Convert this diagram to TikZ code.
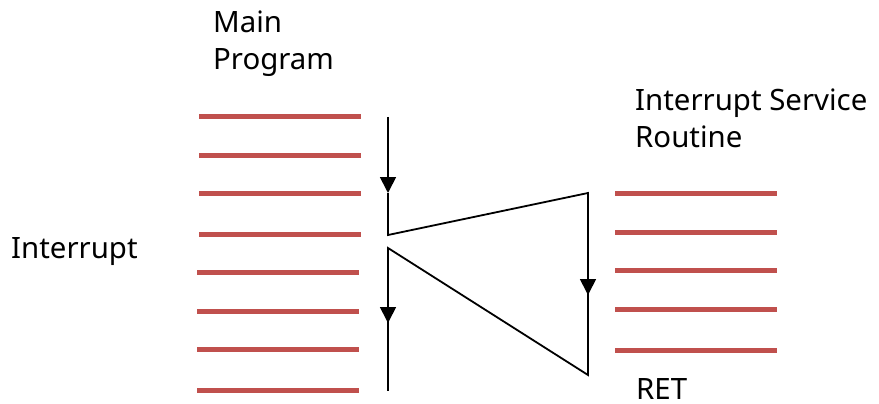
\documentclass[tikz,border=0pt]{standalone}
\usepackage{fontspec}
\setmainfont{Noto Sans}
\usetikzlibrary{arrows.meta}
\definecolor{redline}{HTML}{C0504D}
\tikzset{
  bar/.style={draw=redline,line width=5pt},
  flow/.style={draw=black,line width=1.8pt},
  arr/.style={flow,-{Triangle[width=16pt,length=16pt]}},
  lbl/.style={anchor=base west,inner sep=0pt,font=\fontsize{29.4}{37}\selectfont,align=left}
}
\begin{document}
\begin{tikzpicture}[x=1pt,y=-1pt]
\useasboundingbox (0,0) rectangle (879,404);
% left bars
\foreach \y in {117,155,193,234}{\draw[bar] (199,\y) -- (361,\y);}
\foreach \y in {272,311,349,390}{\draw[bar] (197,\y) -- (359,\y);}
% right bars
\foreach \y in {193,232,270,309,350}{\draw[bar] (615,\y) -- (777,\y);}
% labels
\node[lbl] (main) at (213,70) {Main\\Program};
\node[lbl] (intr) at (11,258) {Interrupt};
\node[lbl] (isr) at (635,147) {Interrupt Service\\Routine};
\node[lbl] (ret) at (636,399) {RET};
% flow
\coordinate (s) at (388,117);
\coordinate (t1) at (388,193);
\coordinate (i) at (388,235);
\coordinate (r1) at (588,193);
\coordinate (t2) at (588,295);
\coordinate (r2) at (588,375);
\coordinate (b) at (388,248);
\coordinate (t3) at (388,323);
\coordinate (e) at (388,391);
\draw[arr] (s) -- (t1);
\draw[flow,line join=miter] (t1) -- (i) -- (r1) -- (t2);
\draw[arr] (r1) -- (t2);
\draw[flow,line join=miter] (t2) -- (r2) -- (b) -- (t3);
\draw[arr] (b) -- (t3);
\draw[flow] (t3) -- (e);
\end{tikzpicture}
\end{document}
